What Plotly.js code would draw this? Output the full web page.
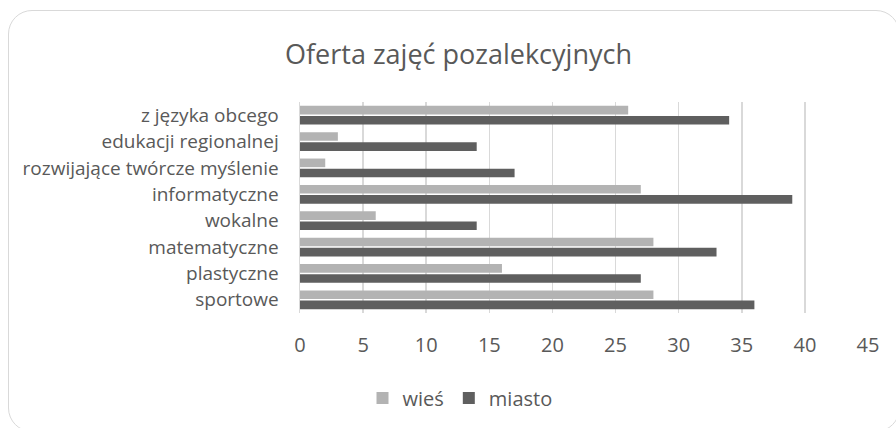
<!DOCTYPE html>
<html>
<head>
<meta charset="utf-8">
<script src="https://cdn.plot.ly/plotly-3.0.1.min.js"></script>
<style>
  html, body { margin: 0; padding: 0; background: #ffffff; }
  #wrap { position: relative; width: 896px; height: 428px; overflow: hidden; }
  #chart { position: absolute; left: 0; top: 0; width: 896px; height: 428px; }
  #frame { position: absolute; left: 8px; top: 10px; width: 892px; height: 422px;
           border: 1.5px solid #d9d9d9; border-radius: 24px; pointer-events: none; box-sizing: border-box; }
</style>
</head>
<body>
<div id="wrap">
  <div id="chart"></div>
  <div id="frame"></div>
</div>
<script>
// categories listed bottom to top
const categories = [
  "sportowe",
  "plastyczne",
  "matematyczne",
  "wokalne",
  "informatyczne",
  "rozwijające twórcze myślenie",
  "edukacji regionalnej",
  "z języka obcego"
];
const wiesValues   = [28, 16, 28, 6, 27, 2, 3, 26];
const miastoValues = [36, 27, 33, 14, 39, 17, 14, 34];
const xTickValues = [0, 5, 10, 15, 20, 25, 30, 35, 40, 45];

const FONT = '"Open Sans", "Noto Sans", sans-serif';
const TXT = '#595959';

const traces = [
  {
    type: 'bar', orientation: 'h', name: 'miasto',
    y: categories, x: miastoValues,
    marker: { color: '#5f5f5f' }
  },
  {
    type: 'bar', orientation: 'h', name: 'wieś',
    y: categories, x: wiesValues,
    marker: { color: '#b3b3b3' }
  }
];

const layout = {
  width: 896, height: 428,
  paper_bgcolor: 'rgba(0,0,0,0)',
  plot_bgcolor: 'rgba(0,0,0,0)',
  margin: { l: 299.5, r: 28, t: 102, b: 115 },
  barmode: 'group',
  bargap: 0.23,
  bargroupgap: 0.15,
  title: {
    text: 'Oferta zajęć pozalekcyjnych',
    font: { family: FONT, size: 27, color: TXT },
    x: 458.5 / 896, xanchor: 'center', xref: 'container',
    y: 1 - 55 / 428, yanchor: 'middle', yref: 'container'
  },
  xaxis: {
    range: [0, 45],
    tickvals: xTickValues,
    ticktext: xTickValues.map(String),
    showgrid: true, gridcolor: '#d9d9d9', gridwidth: 1.5,
    zeroline: false, showline: false, ticks: '',
    ticklabelstandoff: 18,
    tickfont: { family: FONT, size: 20, color: TXT },
    fixedrange: true
  },
  yaxis: {
    type: 'category',
    categoryorder: 'array', categoryarray: categories,
    showgrid: false, zeroline: false,
    showline: true, linecolor: '#d9d9d9', linewidth: 1.5,
    ticks: '',
    ticklabelstandoff: 16,
    tickfont: { family: FONT, size: 19, color: TXT },
    fixedrange: true
  },
  showlegend: true,
  legend: {
    orientation: 'h',
    traceorder: 'reversed',
    xref: 'container', yref: 'container',
    x: 460 / 896, xanchor: 'center',
    y: 1 - 398 / 428, yanchor: 'middle',
    font: { family: FONT, size: 20, color: TXT },
    itemwidth: 30,
    bgcolor: 'rgba(0,0,0,0)'
  }
};

Plotly.newPlot('chart', traces, layout, { displayModeBar: false, staticPlot: true });
</script>
</body>
</html>
